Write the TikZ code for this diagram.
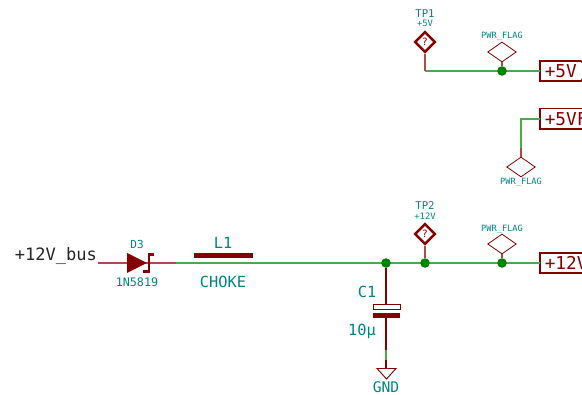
\documentclass[tikz,border=0pt]{standalone}
\usepackage{fontspec}
\setmainfont{DejaVu Sans Mono}
\usetikzlibrary{shapes.geometric}
\definecolor{sred}{HTML}{840000}
\definecolor{swire}{HTML}{008400}
\definecolor{steal}{HTML}{008484}
\tikzset{
  x=0.75pt,y=-0.75pt,
  wire/.style={draw=swire!70!white,line width=0.9pt,line join=miter},
  pin/.style={draw=sred!70!white,line width=0.9pt},
  junc/.style={circle,fill=swire,inner sep=0pt,minimum size=7.2pt},
  flagd/.style={diamond,draw=sred,line width=0.6pt,inner sep=0pt,minimum width=21.5pt,minimum height=15pt,fill=white},
  tpd/.style={diamond,draw=sred,line width=1.8pt,inner sep=0pt,minimum width=15.5pt,minimum height=15.5pt,fill=white,text=sred,font=\fontsize{7.5}{7}\selectfont},
  tl/.style={text=steal,inner sep=0pt},
  big/.style={tl,font=\fontsize{11.5}{12}\selectfont},
  small/.style={tl,font=\fontsize{6.5}{7}\selectfont},
  lab/.style={text=sred,inner sep=0pt,anchor=west,font=\fontsize{13.3}{14}\selectfont},
  lbox/.style={draw=sred,line width=1.3pt,fill=white},
}
\begin{document}
\begin{tikzpicture}
\path[clip] (0,0) rectangle (582,395);
\fill[white] (0,0) rectangle (582,395);

% named points
\coordinate (busEnd) at (98,263);
\coordinate (pinEnd) at (176,263);
\coordinate (capTop) at (386,304);
\coordinate (capBot) at (386,318);
\coordinate (g1) at (386,350);
\coordinate (g2) at (386,360);
\coordinate (gnd) at (386,368);
\coordinate (box12) at (540,263);
\coordinate (box5) at (540,71);
\coordinate (box5f) at (540,119);
\coordinate (corner5) at (425,71);
\coordinate (corner5f) at (521,119);
\coordinate (wire5f) at (521,148);

% output labels
\path[lbox] (540,61) -- (581,61) -- (591,71) -- (581,81) -- (540,81) -- cycle;
\path[lbox] (540,108.5) -- (600,108.5) -- (600,129) -- (540,129) -- cycle;
\path[lbox] (540,253) -- (600,253) -- (600,273) -- (540,273) -- cycle;
\node[lab] at (544.5,71) {+5V};
\node[lab] at (544.5,119) {+5VF};
\node[lab] at (544.5,263) {+12V};

% wires
\draw[wire] (pinEnd) -- (box12);
\draw[wire] (corner5) -- (box5);
\draw[wire] (box5f) -- (corner5f) -- (wire5f);
\draw[wire] (g1) -- (g2);

% junctions and symbols
\node[junc] (j1) at (386,263) {};
\node[junc] (j2) at (425,263) {};
\node[junc] (j3) at (502,263) {};
\node[junc] (j4) at (502,71) {};

\node[tpd] (tp1) at (425,42) {?};
\node[tpd] (tp2) at (425,234) {?};
\node[flagd] (f1) at (502,52) {};
\node[flagd] (f2) at (521,167) {};
\node[flagd] (f3) at (502,244) {};

\draw[pin] (tp1) -- (corner5);
\draw[pin] (tp2) -- (j2);
\draw[pin] (f1) -- (j4);
\draw[pin] (f3) -- (j3);
\draw[pin] (wire5f) -- (f2);
\draw[pin] (busEnd) -- (pinEnd);
\draw[draw=sred,line width=0.8pt] (j1) -- (capTop);
\draw[draw=sred,line width=0.8pt] (capBot) -- (g1);
\draw[draw=sred,line width=0.8pt] (g2) -- (gnd);

% diode
\fill[sred] (127,253) -- (147,263) -- (127,273) -- cycle;
\draw[sred,line width=2.2pt] (154,254.5) -- (149,254.5) -- (149,271.5) -- (143,271.5);

% choke
\node[fill=sred,inner sep=0pt,minimum width=44.2pt,minimum height=4pt] (L1) at (223.5,255.5) {};

% capacitor
\draw[sred,line width=0.7pt,fill=white] (373,304) rectangle (400,309);
\fill[sred] (373,313) rectangle (400,318);

% ground
\draw[sred,line width=0.7pt] (377,368.5) -- (396,368.5) -- (386.5,379) -- cycle;

% texts
\node[inner sep=0pt,anchor=west,text=black!85,font=\fontsize{12.8}{14}\selectfont] at (14.5,256) {+12V\_bus};
\node[tl,font=\fontsize{8.3}{9}\selectfont] at (137,244) {D3};
\node[tl,font=\fontsize{8.8}{9}\selectfont] at (137,282) {1N5819};
\node[big] at (223,243) {L1};
\node[big] at (223,282) {CHOKE};
\node[big] at (367,292) {C1};
\node[big] at (362,331) {10µ};
\node[big,font=\fontsize{11}{12}\selectfont] at (386,387.5) {GND};
\node[tl,font=\fontsize{8}{9}\selectfont] at (425,14) {TP1};
\node[tl,font=\fontsize{6.6}{7}\selectfont] at (425,23) {+5V};
\node[tl,font=\fontsize{8}{9}\selectfont] at (425,206) {TP2};
\node[tl,font=\fontsize{6.6}{7}\selectfont] at (425,216) {+12V};
\node[small] at (502,36) {PWR\_FLAG};
\node[small] at (521,182) {PWR\_FLAG};
\node[small] at (502,229) {PWR\_FLAG};
\end{tikzpicture}
\end{document}
